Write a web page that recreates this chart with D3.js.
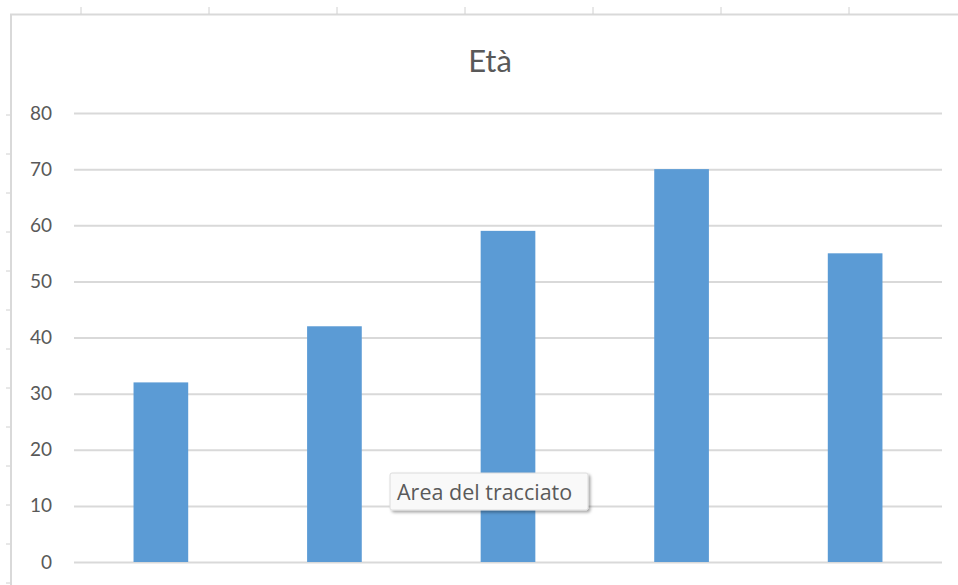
<!DOCTYPE html>
<html>
<head>
<meta charset="utf-8">
<script src="https://cdn.jsdelivr.net/npm/d3@7"></script>
<style>
  body { margin: 0; background: #fff; }
  svg { display: block; font-family: Lato, "Open Sans", sans-serif; }
</style>
</head>
<body>
<div id="chart-area"></div>
<script>
const W = 958
const H = 585
const MARGIN = {LEFT: 74, RIGHT: 16, TOP: 113, BOTTOM: 23}
const WIDTH = W - MARGIN.LEFT - MARGIN.RIGHT
const HEIGHT = H - MARGIN.TOP - MARGIN.BOTTOM

const categories = ["1", "2", "3", "4", "5"]
const values = [32, 42, 59, 70, 55]
const yTicks = [0, 10, 20, 30, 40, 50, 60, 70, 80]
const title = "Età"
const tooltipText = "Area del tracciato"

const svg = d3.select("#chart-area").append("svg")
  .attr("width", W)
  .attr("height", H)

const defs = svg.append("defs")
const shadow = defs.append("filter").attr("id", "shadow")
  .attr("x", "-10%").attr("y", "-20%").attr("width", "130%").attr("height", "160%")
shadow.append("feDropShadow")
  .attr("dx", 2).attr("dy", 2).attr("stdDeviation", 1.5)
  .attr("flood-color", "#000").attr("flood-opacity", 0.35)

// sheet frame (top and left border with little ticks)
svg.append("line")
  .attr("x1", 10).attr("x2", W).attr("y1", 14.5).attr("y2", 14.5)
  .attr("stroke", "#d9d9d9").attr("stroke-width", 2)
svg.append("line")
  .attr("x1", 11).attr("x2", 11).attr("y1", 14).attr("y2", H)
  .attr("stroke", "#d9d9d9").attr("stroke-width", 2)
svg.selectAll(".col-tick")
  .data(d3.range(81, W, 128))
  .enter().append("line")
  .attr("class", "col-tick")
  .attr("x1", d => d).attr("x2", d => d)
  .attr("y1", 7).attr("y2", 14)
  .attr("stroke", "#d0d0d0")
svg.selectAll(".row-tick")
  .data(d3.range(115, H, 39))
  .enter().append("line")
  .attr("class", "row-tick")
  .attr("x1", 6).attr("x2", 10)
  .attr("y1", d => d).attr("y2", d => d)
  .attr("stroke", "#d0d0d0")

const g = svg.append("g")
  .attr("transform", `translate(${MARGIN.LEFT}, ${MARGIN.TOP})`)

const x = d3.scaleBand()
  .domain(categories)
  .range([0, WIDTH])
  .paddingInner(0.685)
  .paddingOuter(0.343)

const y = d3.scaleLinear()
  .domain([0, 80])
  .range([HEIGHT, 0])

// gridlines
g.append("g")
  .attr("class", "grid")
  .call(d3.axisLeft(y).tickValues(yTicks).tickSize(-WIDTH).tickFormat(""))
  .call(a => a.select(".domain").remove())
  .call(a => a.selectAll("line").attr("stroke", "#d9d9d9").attr("stroke-width", 2))

// Y labels
g.append("g")
  .attr("class", "y axis")
  .call(d3.axisLeft(y).tickValues(yTicks).tickSize(0).tickPadding(22))
  .call(a => a.select(".domain").remove())
  .call(a => a.selectAll("text")
    .attr("fill", "#595959")
    .attr("font-size", "19px")
    .attr("font-family", "Lato, 'Open Sans', sans-serif"))

// bars
g.selectAll("rect.bar")
  .data(values)
  .enter().append("rect")
  .attr("class", "bar")
  .attr("fill", "#5b9bd5")
  .attr("x", (d, i) => x(categories[i]))
  .attr("width", x.bandwidth())
  .attr("y", d => y(d))
  .attr("height", d => HEIGHT - y(d))

// title
svg.append("text")
  .attr("x", 490)
  .attr("y", 72)
  .attr("text-anchor", "middle")
  .attr("font-size", "31px")
  .attr("fill", "#595959")
  .text(title)

// tooltip
const tip = svg.append("g").attr("transform", "translate(390, 473)")
tip.append("rect")
  .attr("width", 198).attr("height", 37).attr("rx", 2)
  .attr("fill", "#f9f9f9").attr("stroke", "#dcdcdc")
  .attr("filter", "url(#shadow)")
tip.append("text")
  .attr("x", 7).attr("y", 27)
  .attr("font-size", "21.5px")
  .attr("fill", "#5a5a5a")
  .attr("font-family", "'Open Sans', 'Noto Sans', sans-serif")
  .text(tooltipText)
</script>
</body>
</html>
